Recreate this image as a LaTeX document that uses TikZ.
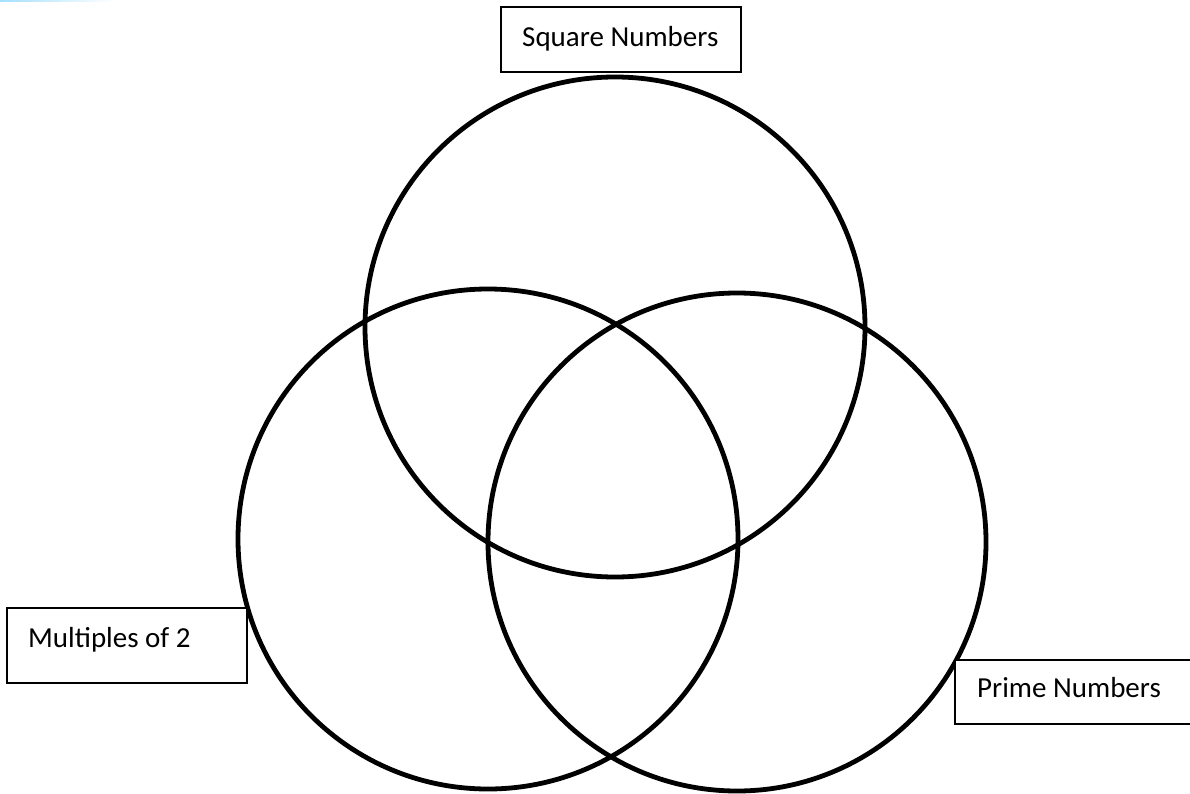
\documentclass[tikz,border=0pt]{standalone}
\usepackage{fontspec}
\setmainfont{Carlito}
\begin{document}
\begin{tikzpicture}[x=1pt,y=-1pt,
  ring/.style={draw=black,line width=4.8pt},
  labelbox/.style={draw=black,line width=2pt},
  lbl/.style={anchor=base west,inner sep=0pt,font=\fontsize{29}{34}\selectfont}]
\useasboundingbox (0,0) rectangle (1190,794);
\fill[left color=blue!35!cyan!35!white,right color=white] (0,0) rectangle (115,2);
% circles
\node[ring,circle,minimum size=500pt,inner sep=0pt] (top) at (615,327) {};
\node[ring,circle,minimum size=500pt,inner sep=0pt] (left) at (488,539) {};
\node[ring,circle,minimum size=498pt,inner sep=0pt] (right) at (737,542) {};
% label boxes
\draw[labelbox,fill=white] (501,7) rectangle (741,72);
\node[lbl] (sq) at (522,47) {Square Numbers};
\draw[labelbox,fill=white] (7,608) rectangle (247,683);
\node[lbl] (m2) at (28,647) {Multiples of 2};
\draw[labelbox,fill=white] (955,660) rectangle (1195,724);
\node[lbl] (pr) at (977,697) {Prime Numbers};
\end{tikzpicture}
\end{document}
